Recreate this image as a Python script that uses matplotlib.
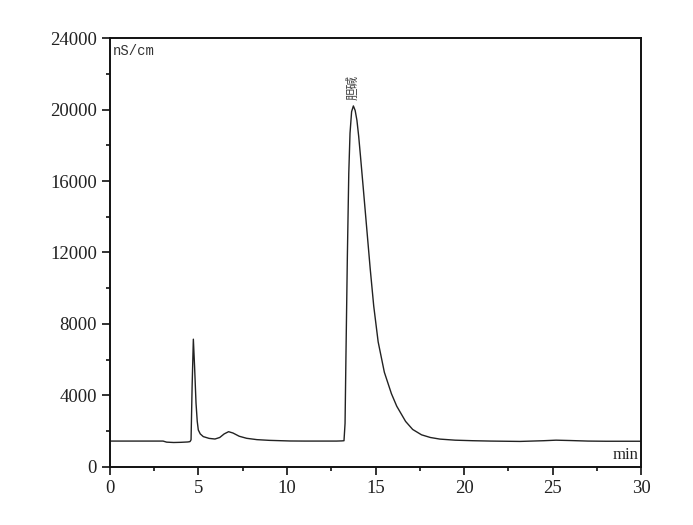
import matplotlib.pyplot as plt
from matplotlib.ticker import MultipleLocator

# chromatogram trace (time in min, signal in nS/cm)
time_min = [0.0, 1.0, 2.0, 3.0, 3.2, 3.6, 4.0, 4.4, 4.52, 4.58, 4.64, 4.71, 4.78,
            4.86, 4.93, 4.99, 5.1, 5.27, 5.6, 5.93, 6.2, 6.45, 6.7, 6.95, 7.3,
            7.72, 8.3, 9.0, 10.17, 11.0, 12.0, 12.8, 13.1, 13.22, 13.28, 13.33,
            13.41, 13.49, 13.56, 13.65, 13.75, 13.85, 13.95, 14.05, 14.15, 14.3,
            14.5, 14.7, 14.9, 15.15, 15.5, 15.9, 16.2, 16.7, 17.1, 17.6, 18.1,
            18.64, 19.5, 20.5, 21.5, 23.16, 24.5, 25.2, 26.0, 27.0, 28.0, 29.0,
            30.0]
signal = [1450, 1450, 1450, 1450, 1390, 1370, 1380, 1400, 1420, 1520, 4500,
          7150, 5600, 3580, 2550, 2070, 1850, 1700, 1600, 1565, 1650, 1850,
          1975, 1900, 1720, 1605, 1530, 1490, 1455, 1450, 1450, 1450, 1460,
          1470, 2440, 6170, 11770, 16430, 18670, 19880, 20200, 19950, 19400,
          18500, 17400, 15700, 13400, 11100, 9000, 7000, 5300, 4100, 3400,
          2550, 2100, 1800, 1650, 1560, 1500, 1470, 1450, 1430, 1470, 1500,
          1480, 1450, 1440, 1440, 1440]

peak_label = "胆碱"
peak_time = 13.75
peak_height = 20200

fig = plt.figure(figsize=(6.93, 5.25), dpi=100)
ax = fig.add_axes([0.1587, 0.1105, 0.7663, 0.8171])

ax.plot(time_min, signal, color="#222222", linewidth=1.0)

ax.set_xlim(0, 30)
ax.set_ylim(0, 24000)
ax.xaxis.set_major_locator(MultipleLocator(5))
ax.xaxis.set_minor_locator(MultipleLocator(2.5))
ax.yaxis.set_major_locator(MultipleLocator(4000))
ax.yaxis.set_minor_locator(MultipleLocator(2000))
ax.tick_params(which="both", direction="out", top=False, right=False, width=1.3,
               labelsize=13.5, colors="#222222")
ax.tick_params(which="major", length=6)
ax.tick_params(which="minor", length=3)
for lbl in ax.get_xticklabels() + ax.get_yticklabels():
    lbl.set_family("Liberation Serif")
for s in ax.spines.values():
    s.set_linewidth(1.4)
    s.set_color("#111111")

ax.text(0.006, 0.985, "nS/cm", transform=ax.transAxes, ha="left", va="top",
        fontsize=10, family="Liberation Mono", color="#333333")
ax.text(0.995, 0.01, "min", transform=ax.transAxes, ha="right", va="bottom",
        fontsize=12, family="Liberation Serif", color="#222222")
ax.annotate(peak_label, (peak_time, peak_height), xytext=(0, 4),
            textcoords="offset points", rotation=90, ha="center", va="bottom",
            fontsize=9, family=["Noto Sans CJK SC", "DejaVu Sans"], color="#444444")

fig.savefig("out.png", dpi=100)
